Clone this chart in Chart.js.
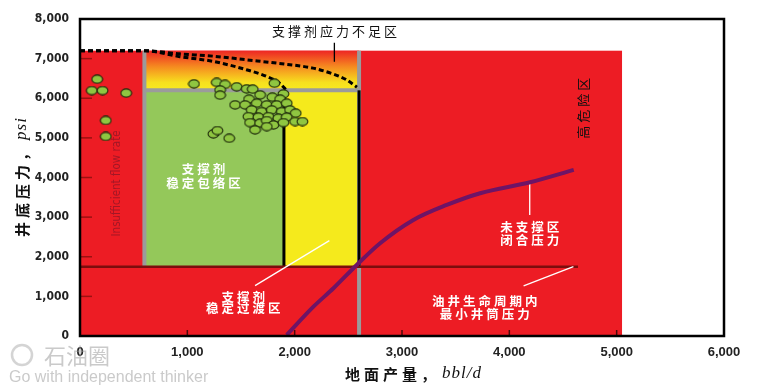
<!DOCTYPE html>
<html>
<head>
<meta charset="utf-8">
<script src="https://cdn.jsdelivr.net/npm/chart.js@4"></script>
<style>
  body { margin: 0; background: #fff; }
  #wrap { width: 775px; height: 388px; position: relative; }
</style>
</head>
<body>
<div id="wrap"><canvas id="chart"></canvas></div>
<script>
// axis ranges (bbl/d, psi)
var xTicks = [0, 1000, 2000, 3000, 4000, 5000, 6000];
var yTicks = [0, 1000, 2000, 3000, 4000, 5000, 6000, 7000, 8000];

// zone boundaries, in data units
var redZone = [0, 5050, 0, 7200];          // x0, x1, y0, y1
var lowStressZone = [600, 2600, 6200, 7200];
var stableZone = [600, 1900, 1750, 6200];
var transitionZone = [1900, 2600, 1750, 6200];
var minBhp = 1750;                         // min wellbore pressure line
var minBhpEnd = 4640;

// well data points
var wells = [
  [160, 6480], [110, 6195], [210, 6195], [430, 6130], [240, 5440], [240, 5035],
  [1062, 6364], [1274, 6400], [1351, 6350], [1305, 6212], [1305, 6078], [1460, 6290],
  [1553, 6237], [1609, 6230], [1811, 6380],
  [1895, 6111], [1678, 6086], [1792, 6028], [1864, 5977], [1575, 5977], [1445, 5833],
  [1538, 5833], [1647, 5876], [1740, 5833], [1833, 5833], [1926, 5876], [1600, 5707],
  [1693, 5664], [1787, 5707], [1880, 5664], [1957, 5707], [2010, 5624], [1569, 5538],
  [1662, 5523], [1755, 5538], [1848, 5497], [1926, 5523], [1584, 5386], [1678, 5371],
  [1740, 5437], [1802, 5328], [1895, 5386], [2004, 5412], [2072, 5412], [1631, 5202],
  [1740, 5285],
  [1243, 5101], [1280, 5185], [1390, 4990]
];

// closure pressure of unpropped region
var closureX = [1926, 2175, 2361, 2578, 2796, 3106, 3417, 3728, 4194, 4600];
var closureY = [25, 740, 1204, 1793, 2341, 2929, 3308, 3603, 3881, 4192];

// proppant stress limit curves (dashed)
var outerX = [0, 600, 930, 1250, 1550, 1850, 2170, 2350, 2480, 2580];
var outerY = [7200, 7200, 7120, 7060, 6970, 6880, 6760, 6620, 6470, 6280];
var innerX = [0, 600, 930, 1240, 1550, 1740, 1860, 1920];
var innerY = [7200, 7200, 7050, 6930, 6720, 6550, 6380, 6210];

var narrow = '"DejaVu Sans Condensed", "Liberation Sans", sans-serif';

function pts(xs, ys) {
  return xs.map(function (x, i) { return { x: x, y: ys[i] }; });
}

// dot marker (slightly flattened circle like the original)
function makeDot() {
  var c = document.createElement('canvas');
  c.width = 13; c.height = 10;
  var g = c.getContext('2d');
  g.beginPath();
  g.ellipse(6.5, 5, 5.4, 4.1, 0, 0, Math.PI * 2);
  g.fillStyle = '#8fc641';
  g.fill();
  g.lineWidth = 1.1;
  g.strokeStyle = '#1f2b0c';
  g.stroke();
  return c;
}

function leader(x0, y0, x1, y1, color) {
  return {
    data: [{ x: x0, y: y0 }, { x: x1, y: y1 }],
    showLine: true, borderColor: color, borderWidth: 1.3,
    pointRadius: 0
  };
}

var zonesPlugin = {
  id: 'zones',
  beforeDatasetsDraw: function (chart) {
    var ctx = chart.ctx, xs = chart.scales.x, ys = chart.scales.y;
    function px(v) { return xs.getPixelForValue(v); }
    function py(v) { return ys.getPixelForValue(v); }
    function rect(z, fill) {
      ctx.fillStyle = fill;
      ctx.fillRect(px(z[0]), py(z[3]), px(z[1]) - px(z[0]), py(z[2]) - py(z[3]));
    }
    function line(x0, y0, x1, y1, color, w) {
      ctx.beginPath();
      ctx.moveTo(px(x0), py(y0));
      ctx.lineTo(px(x1), py(y1));
      ctx.strokeStyle = color;
      ctx.lineWidth = w;
      ctx.stroke();
    }
    ctx.save();
    rect(redZone, '#ed1c24');
    var grad = ctx.createLinearGradient(0, py(lowStressZone[3]), 0, py(lowStressZone[2]));
    grad.addColorStop(0, '#ee2624');
    grad.addColorStop(0.4, '#f58a20');
    grad.addColorStop(0.8, '#f7e01e');
    grad.addColorStop(1, '#f8eb1f');
    rect(lowStressZone, grad);
    rect(stableZone, '#94c85a');
    rect(transitionZone, '#f5ea1c');

    var gray = '#9b9b9b';
    line(stableZone[0], stableZone[2], stableZone[0], lowStressZone[3], gray, 4);
    line(lowStressZone[0], lowStressZone[2], lowStressZone[1], lowStressZone[2], gray, 4);
    line(lowStressZone[1], 0, lowStressZone[1], lowStressZone[3], gray, 4);
    line(transitionZone[0], transitionZone[2], transitionZone[0], transitionZone[3], '#000', 3);
    line(transitionZone[1], transitionZone[2], transitionZone[1], transitionZone[3], '#000', 3);
    line(0, minBhp, minBhpEnd, minBhp, '#7c0d0d', 2.5);

    // inner tick marks
    ctx.strokeStyle = '#9b1111';
    ctx.lineWidth = 1.5;
    yTicks.slice(1, -1).forEach(function (v) {
      ctx.beginPath();
      ctx.moveTo(px(0), py(v));
      ctx.lineTo(px(0) + 12, py(v));
      ctx.stroke();
    });
    ctx.strokeStyle = '#4a0a0a';
    xTicks.slice(1, -1).forEach(function (v) {
      ctx.beginPath();
      ctx.moveTo(px(v), py(0));
      ctx.lineTo(px(v), py(0) - 6);
      ctx.stroke();
    });
    ctx.restore();
  },
  afterDatasetsDraw: function (chart) {
    var ctx = chart.ctx, xs = chart.scales.x, ys = chart.scales.y, a = chart.chartArea;
    function px(v) { return xs.getPixelForValue(v); }
    function py(v) { return ys.getPixelForValue(v); }
    ctx.save();
    ctx.textAlign = 'center';
    ctx.textBaseline = 'middle';
    ctx.letterSpacing = '3px';
    ctx.font = 'bold 12.5px "Noto Sans CJK SC"';

    ctx.fillStyle = '#fff';
    [
      ['支撑剂', 1150, 4200], ['稳定包络区', 1150, 3850],
      ['支撑剂', 1520, 990], ['稳定过渡区', 1520, 700],
      ['未支撑区', 4190, 2750], ['闭合压力', 4190, 2420],
      ['油井生命周期内', 3770, 880], ['最小井筒压力', 3770, 560]
    ].forEach(function (t) { ctx.fillText(t[0], px(t[1]) + 1.5, py(t[2])); });

    ctx.fillStyle = '#111';
    ctx.font = '13px "Noto Sans CJK SC"';
    ctx.fillText('支撑剂应力不足区', px(2370) + 1.5, py(7700));

    ctx.save();
    ctx.translate(px(4690), py(5750));
    ctx.rotate(-Math.PI / 2);
    ctx.letterSpacing = '3px';
    ctx.fillText('高危险区', 1.5, 0);
    ctx.restore();

    ctx.save();
    ctx.translate(px(345), py(3850));
    ctx.rotate(-Math.PI / 2);
    ctx.letterSpacing = '0px';
    ctx.font = '11.5px ' + narrow;
    ctx.fillStyle = 'rgba(110,20,40,0.6)';
    ctx.fillText('Insufficient flow rate', 0, 0);
    ctx.restore();

    // frame
    ctx.strokeStyle = '#000';
    ctx.lineWidth = 2.5;
    ctx.strokeRect(a.left, a.top, a.right - a.left, a.bottom - a.top);
    ctx.restore();
  },
  afterDraw: function (chart) {
    var ctx = chart.ctx;
    ctx.save();
    ctx.textBaseline = 'middle';
    // x title
    ctx.fillStyle = '#111';
    ctx.textAlign = 'left';
    ctx.letterSpacing = '4px';
    ctx.font = 'bold 15px "Noto Sans CJK SC"';
    ctx.fillText('地面产量，', 345, 374);
    var w = ctx.measureText('地面产量，').width;
    ctx.letterSpacing = '1px';
    ctx.font = 'italic 17px "Liberation Serif"';
    ctx.fillText('bbl/d', 345 + w + 2, 374);

    // y title
    ctx.translate(22, 178);
    ctx.rotate(-Math.PI / 2);
    ctx.letterSpacing = '4px';
    ctx.font = 'bold 15px "Noto Sans CJK SC"';
    var w1 = ctx.measureText('井底压力，').width;
    ctx.letterSpacing = '1px';
    ctx.font = 'italic 17px "Liberation Serif"';
    var w2 = ctx.measureText('psi').width;
    var sx = -(w1 + w2) / 2;
    ctx.letterSpacing = '4px';
    ctx.font = 'bold 15px "Noto Sans CJK SC"';
    ctx.fillText('井底压力，', sx, 0);
    ctx.letterSpacing = '1px';
    ctx.font = 'italic 17px "Liberation Serif"';
    ctx.fillText('psi', sx + w1 + 2, 0);
    ctx.restore();

    // watermark
    ctx.save();
    ctx.fillStyle = 'rgba(150,150,150,0.5)';
    ctx.textBaseline = 'middle';
    ctx.textAlign = 'left';
    ctx.font = '22px "Noto Sans CJK SC"';
    ctx.fillText('石油圈', 44, 356);
    ctx.font = '16px "Liberation Sans"';
    ctx.fillText('Go with independent thinker', 9, 378);
    ctx.beginPath();
    ctx.arc(22, 355, 10, 0, Math.PI * 2);
    ctx.lineWidth = 2.5;
    ctx.strokeStyle = 'rgba(170,170,170,0.5)';
    ctx.stroke();
    ctx.restore();
  }
};

var fmt = function (v) { return v.toLocaleString('en-US'); };

new Chart(document.getElementById('chart'), {
  type: 'scatter',
  data: {
    datasets: [
      { data: wells.map(function (p) { return { x: p[0], y: p[1] }; }),
        pointStyle: makeDot(), pointRadius: 6 },
      { data: pts(closureX, closureY), showLine: true, borderColor: '#6e1466',
        borderWidth: 4, pointRadius: 0, cubicInterpolationMode: 'monotone' },
      leader(4190, 3856, 4190, 3056, '#fff'),
      leader(4133, 1263, 4597, 1750, '#fff'),
      leader(2323, 2407, 1631, 1270, '#fff'),
      leader(2370, 7400, 2370, 6920, '#000'),
      { data: pts(outerX, outerY), showLine: true, borderColor: '#000',
        borderWidth: 3, borderDash: [5, 3], pointRadius: 0, cubicInterpolationMode: 'monotone' },
      { data: pts(innerX, innerY), showLine: true, borderColor: '#000',
        borderWidth: 3, borderDash: [5, 3], pointRadius: 0, cubicInterpolationMode: 'monotone' }
    ]
  },
  options: {
    responsive: true,
    maintainAspectRatio: false,
    animation: false,
    layout: { padding: { top: 19, right: 51, left: 0, bottom: 0 } },
    plugins: { legend: { display: false }, tooltip: { enabled: false } },
    scales: {
      x: {
        type: 'linear', min: 0, max: 6000,
        afterBuildTicks: function (s) { s.ticks = xTicks.map(function (v) { return { value: v }; }); },
        afterFit: function (s) { s.height = 52; },
        grid: { display: false, drawTicks: false },
        border: { display: false },
        ticks: { callback: fmt, padding: 9, color: '#222', maxRotation: 0,
          font: { family: 'Liberation Sans', weight: 'bold', size: 13 } }
      },
      y: {
        min: 0, max: 8000,
        afterBuildTicks: function (s) { s.ticks = yTicks.map(function (v) { return { value: v }; }); },
        afterFit: function (s) { s.width = 80; },
        grid: { display: false, drawTicks: false },
        border: { display: false },
        ticks: { callback: fmt, padding: 11, color: '#222',
          font: { family: narrow, weight: 'bold', size: 12 } }
      }
    }
  },
  plugins: [zonesPlugin]
});
</script>
</body>
</html>
